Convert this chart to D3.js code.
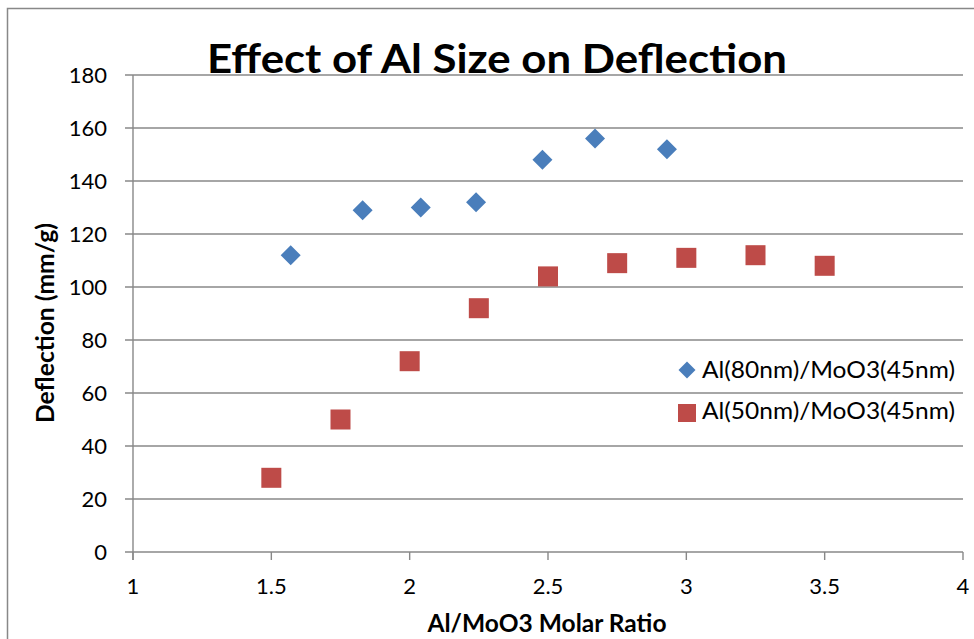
<!DOCTYPE html>
<html><head><meta charset="utf-8">
<script src="https://cdn.jsdelivr.net/npm/d3@7"></script>
<style>body{margin:0;background:#fff}svg{display:block}text{font-family:Lato,"Open Sans",sans-serif}</style>
</head><body><svg id="c" width="974" height="639"></svg>
<script>
const seriesNames = ["Al(80nm)/MoO3(45nm)", "Al(50nm)/MoO3(45nm)"];
const blueX = [1.57, 1.83, 2.04, 2.24, 2.48, 2.67, 2.93];
const blueY = [112, 129, 130, 132, 148, 156, 152];
const redX = [1.5, 1.75, 2.0, 2.25, 2.5, 2.75, 3.0, 3.25, 3.5];
const redY = [28, 50, 72, 92, 104, 109, 111, 112, 108];
const xTicks = [1, 1.5, 2, 2.5, 3, 3.5, 4];
const yTicks = [0, 20, 40, 60, 80, 100, 120, 140, 160, 180];
const title = "Effect of Al Size on Deflection";
const xTitle = "Al/MoO3 Molar Ratio";
const yTitle = "Deflection (mm/g)";

const svg = d3.select("#c");
const grid = "#888";
// chart border
svg.append("path").attr("d","M7.5,700 V8.5 H1000").attr("fill","none").attr("stroke",grid).attr("stroke-width",1.5);

const x = d3.scaleLinear().domain([1,4]).range([133,963]);
const y = d3.scaleLinear().domain([0,180]).range([552,75]);

// gridlines
svg.append("g").selectAll("line").data(yTicks).join("line")
  .attr("x1",125).attr("x2",963).attr("y1",d=>y(d)).attr("y2",d=>y(d))
  .attr("stroke",grid).attr("stroke-width",1.4);
// y axis
svg.append("line").attr("x1",133).attr("x2",133).attr("y1",75).attr("y2",560).attr("stroke",grid).attr("stroke-width",1.4);
// x tick marks
svg.append("g").selectAll("line").data(xTicks).join("line")
  .attr("x1",d=>x(d)).attr("x2",d=>x(d)).attr("y1",552).attr("y2",560)
  .attr("stroke",grid).attr("stroke-width",1.4);

svg.append("g").selectAll("text").data(yTicks).join("text")
  .attr("x",107).attr("y",d=>y(d)+8).attr("text-anchor","end")
  .attr("font-size",22).attr("fill","#000").text(d=>d);
svg.append("g").selectAll("text").data(xTicks).join("text")
  .attr("x",d=>x(d)).attr("y",594).attr("text-anchor","middle")
  .attr("font-size",22).attr("fill","#000").text(d=>d);

svg.append("text").attr("x",497).attr("y",73).attr("text-anchor","middle")
  .attr("font-size",40).attr("font-weight","bold").attr("textLength",580).attr("lengthAdjust","spacingAndGlyphs").text(title);
svg.append("text").attr("x",547).attr("y",632).attr("text-anchor","middle")
  .attr("font-size",24).attr("font-weight","bold").attr("textLength",239).attr("lengthAdjust","spacingAndGlyphs").text(xTitle);
svg.append("text").attr("transform","translate(54,323) rotate(-90)").attr("text-anchor","middle")
  .attr("font-size",24).attr("font-weight","bold").attr("textLength",200).attr("lengthAdjust","spacingAndGlyphs").text(yTitle);

const blue = "#4a7ebb", red = "#be4b48";
const diamond = (cx,cy,r)=>`M${cx},${cy-r}L${cx+r},${cy}L${cx},${cy+r}L${cx-r},${cy}Z`;
svg.append("g").selectAll("path").data(blueX.map((v,i)=>[v,blueY[i]])).join("path")
  .attr("d",d=>diamond(x(d[0]),y(d[1]),10)).attr("fill",blue);
svg.append("g").selectAll("rect").data(redX.map((v,i)=>[v,redY[i]])).join("rect")
  .attr("x",d=>x(d[0])-10).attr("y",d=>y(d[1])-10).attr("width",20).attr("height",20).attr("fill",red);

// legend
const lg = svg.append("g");
lg.append("path").attr("d",diamond(687,370,8.5)).attr("fill",blue);
lg.append("rect").attr("x",678).attr("y",404).attr("width",18).attr("height",18).attr("fill",red);
lg.selectAll("text").data(seriesNames).join("text")
  .attr("x",702).attr("y",(d,i)=>378+i*41).attr("font-size",23).attr("fill","#000")
  .attr("textLength",253).attr("lengthAdjust","spacingAndGlyphs").text(d=>d);
</script></body></html>
